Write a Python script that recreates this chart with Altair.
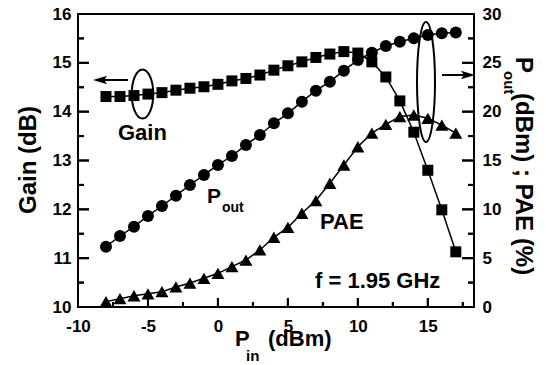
import altair as alt
import pandas as pd

# ---------------- data ----------------
pin = [-8, -7, -6, -5, -4, -3, -2, -1, 0, 1, 2, 3, 4, 5, 6, 7, 8, 9, 10, 11, 12, 13, 14, 15, 16, 17]
gain = [14.31, 14.31, 14.33, 14.36, 14.39, 14.44, 14.48, 14.51, 14.56, 14.63, 14.68, 14.75, 14.85,
        14.94, 15.02, 15.11, 15.18, 15.23, 15.20, 15.02, 14.71, 14.22, 13.58, 12.80, 11.99, 11.13]
pout = [6.18, 7.27, 8.22, 9.32, 10.34, 11.40, 12.49, 13.52, 14.54, 15.46, 16.59, 17.61, 18.81,
        19.83, 21.02, 22.15, 23.07, 24.20, 25.29, 26.04, 26.72, 27.16, 27.51, 27.85, 28.02, 28.10]
pae = [0.55, 0.85, 1.15, 1.35, 1.57, 2.05, 2.45, 2.94, 3.45, 4.13, 4.81, 5.84, 7.14,
       8.16, 9.60, 10.90, 12.67, 14.54, 16.41, 17.80, 18.70, 19.50, 19.66, 19.32, 18.63, 17.80]

x_major = [-10, -5, 0, 5, 10, 15]
x_minor = [-7.5, -2.5, 2.5, 7.5, 12.5, 17.5]
gain_major = [10, 11, 12, 13, 14, 15, 16]
gain_minor = [10.5, 11.5, 12.5, 13.5, 14.5, 15.5]
right_major = [0, 5, 10, 15, 20, 25, 30]
right_minor = [2.5, 7.5, 12.5, 17.5, 22.5, 27.5]

X_DOMAIN = [-10, 18.3]
L_DOMAIN = [10, 16]
R_DOMAIN = [0, 30]

FONT = "Liberation Sans"
W, H = 396, 293

df = pd.DataFrame({"pin": pin, "gain": gain, "pout": pout, "pae": pae})
one = pd.DataFrame({"k": [0]})


def axis(orient, values, size, pad):
    return alt.Axis(
        orient=orient, values=values, labelExpr="'' + datum.value",
        labelFont=FONT, labelFontSize=size, labelFontWeight="bold", labelColor="black",
        ticks=False, labelPadding=pad, domain=False,
        grid=False, labelOverlap=False, labelFlush=False, title=None,
    )


xscale = alt.Scale(domain=X_DOMAIN, nice=False, zero=False)
xaxis = axis("bottom", x_major, 17, 11)
lscale = alt.Scale(domain=L_DOMAIN, nice=False, zero=False)
laxis = axis("left", gain_major, 17, 7)
rscale = alt.Scale(domain=R_DOMAIN, nice=False, zero=False)
raxis = axis("right", right_major, 17, 8)


def X(f):
    return alt.X(f, type="quantitative", scale=xscale, axis=xaxis)


def YL(f):
    return alt.Y(f, type="quantitative", scale=lscale, axis=laxis)


def YR(f):
    return alt.Y(f, type="quantitative", scale=rscale, axis=raxis)


# ---- inward tick marks (frame decoration), placed through the axis scales ----
def span(domain):
    return domain[1] - domain[0]


def tick_frame(vals, start, length_px, px_total, dom, direction):
    # tick runs from the frame edge (start) inward by length_px pixels
    step = direction * length_px * span(dom) / px_total
    return pd.DataFrame({"t": [float(v) for v in vals],
                         "lo": [float(start)] * len(vals),
                         "hi": [float(start + step)] * len(vals)})


RULE = dict(color="black", strokeWidth=2)


def x_ticks(vals, length):
    d = tick_frame(vals, L_DOMAIN[0], length, H, L_DOMAIN, 1)
    a = alt.Chart(d).mark_rule(**RULE).encode(x=X("t"), y=YL("lo"), y2="hi:Q")
    b = alt.Chart(d).mark_rule(**RULE).encode(x=X("t"), y=alt.value(H), y2=alt.value(H - length))
    return [a, b]


def left_ticks(vals, length):
    d = tick_frame(vals, X_DOMAIN[0], length, W, X_DOMAIN, 1)
    a = alt.Chart(d).mark_rule(**RULE).encode(y=YL("t"), x=X("lo"), x2="hi:Q")
    b = alt.Chart(d).mark_rule(**RULE).encode(y=YL("t"), x=alt.value(0), x2=alt.value(length))
    return [a, b]


def right_ticks(vals, length):
    d = tick_frame(vals, X_DOMAIN[1], length, W, X_DOMAIN, -1)
    a = alt.Chart(d).mark_rule(**RULE).encode(y=YR("t"), x=X("lo"), x2="hi:Q")
    b = alt.Chart(d).mark_rule(**RULE).encode(y=YR("t"), x=alt.value(W), x2=alt.value(W - length))
    return [a, b]


base = alt.Chart(df)
gain_line = base.mark_line(color="black", strokeWidth=1.5).encode(x=X("pin"), y=YL("gain"))
gain_pts = base.mark_point(shape="square", filled=True, size=121, color="black", opacity=1).encode(
    x=X("pin"), y=YL("gain"))
left = alt.layer(
    gain_line, gain_pts,
    *x_ticks(x_major, 9), *x_ticks(x_minor, 5),
    *left_ticks(gain_major, 11), *left_ticks(gain_minor, 6),
)

pout_line = base.mark_line(color="black", strokeWidth=1.5).encode(x=X("pin"), y=YR("pout"))
pout_pts = base.mark_point(shape="circle", filled=True, size=144, color="black", opacity=1).encode(
    x=X("pin"), y=YR("pout"))
pae_line = base.mark_line(color="black", strokeWidth=1.5).encode(x=X("pin"), y=YR("pae"))
pae_pts = base.mark_point(shape="triangle-up", filled=True, size=170, color="black", opacity=1).encode(
    x=X("pin"), y=YR("pae"))
right = alt.layer(
    pout_line, pout_pts, pae_line, pae_pts,
    *right_ticks(right_major, 12), *right_ticks(right_minor, 6),
)


def label(txt, x, y, size=22, angle=0, align="left"):
    return alt.Chart(one).mark_text(
        text=txt, font=FONT, fontWeight="bold", fontSize=size, angle=angle,
        align=align, baseline="alphabetic", color="black",
    ).encode(x=alt.value(x), y=alt.value(y))


def ellipse(cx, cy, half_h, ratio):
    k = 0.5523
    a = ratio
    path = (f"M0,-1 C{k*a:.4f},-1 {a:.4f},-{k} {a:.4f},0 "
            f"C{a:.4f},{k} {k*a:.4f},1 0,1 "
            f"C-{k*a:.4f},1 -{a:.4f},{k} -{a:.4f},0 "
            f"C-{a:.4f},-{k} -{k*a:.4f},-1 0,-1 Z")
    return alt.Chart(one).mark_point(
        shape=path, size=(2 * half_h) ** 2, filled=False, stroke="black",
        strokeWidth=2, opacity=1,
    ).encode(x=alt.value(cx), y=alt.value(cy))


def hline(x1, x2, y):
    return alt.Chart(one).mark_rule(color="black", strokeWidth=2).encode(
        x=alt.value(x1), x2=alt.value(x2), y=alt.value(y))


def head(cx, cy, direction):
    path = "M-1,0 L1,-0.6 L0.6,0 L1,0.6 Z" if direction == "left" else "M1,0 L-1,-0.6 L-0.6,0 L-1,0.6 Z"
    return alt.Chart(one).mark_point(
        shape=path, size=196, filled=True, color="black", opacity=1, strokeWidth=0,
    ).encode(x=alt.value(cx), y=alt.value(cy))


annots = [
    ellipse(64.5, 80, 24.5, 0.44),
    hline(18, 50, 66),
    head(22, 66, "left"),
    label("Gain", 40, 126),
    ellipse(348, 68, 60, 0.15),
    hline(364, 392, 61),
    head(390, 61, "right"),
    label("P", 129, 189, size=21),
    label("out", 144, 198, size=14),
    label("PAE", 242, 215),
    label("f = 1.95 GHz", 237, 274),
    label("Gain (dB)", -42, 146, size=24, angle=270, align="center"),
    label("P", 157, 332, size=22),
    label("in", 168, 347, size=15),
    label("(dBm)", 190, 332, size=22),
    label("P", 438, 43, size=24, angle=90),
    label("out", 426, 57, size=15, angle=90),
    label("(dBm) ; PAE (%)", 438, 79, size=24, angle=90),
]

chart = alt.layer(left, right, *annots).resolve_scale(y="independent").properties(
    width=W, height=H,
    autosize=alt.AutoSizeParams(type="none"),
    padding={"left": 70, "top": 6, "right": 64, "bottom": 57},
).configure_view(stroke="black", strokeWidth=2)

chart.save("out.html", embed_options={"renderer": "svg", "actions": False})
